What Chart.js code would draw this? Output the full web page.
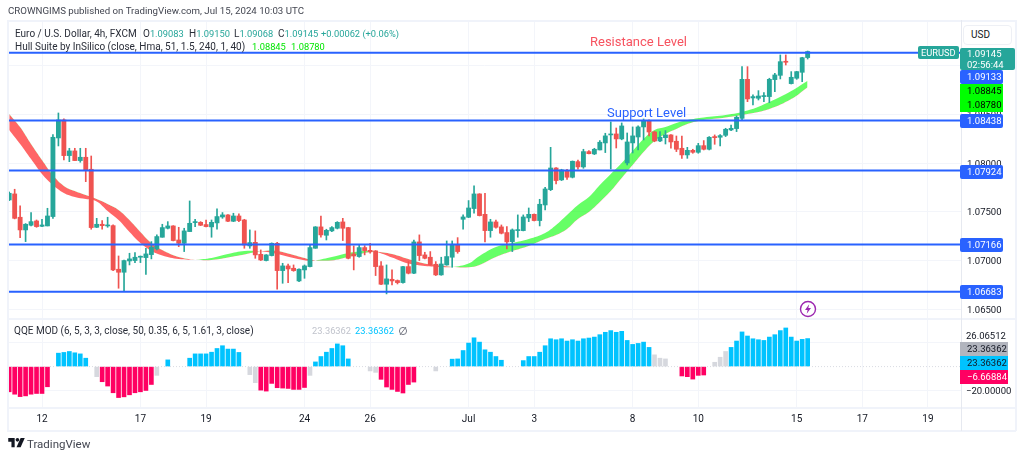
<!DOCTYPE html>
<html><head><meta charset="utf-8">
<script src="https://cdn.jsdelivr.net/npm/chart.js@4"></script>
<style>
html,body{margin:0;padding:0;background:#fff;width:1024px;height:458px;overflow:hidden;font-family:Roboto,sans-serif}
canvas{position:absolute;left:0}
.t{position:absolute;white-space:nowrap;font-size:10px;line-height:12px;color:#2a2e39}
.n{font-size:9.3px}
.b{position:absolute;left:960px;width:43px;box-sizing:border-box;padding-left:7px;font-size:9.5px;line-height:14px;height:14px;color:#fff;border-radius:2px;white-space:nowrap}
.r{position:absolute;background:#f0f3fa}
svg{position:absolute}
</style></head><body>
<canvas id="price" width="1024" height="318" style="top:0"></canvas>
<canvas id="qqe" width="1024" height="140" style="top:318px"></canvas>

<div class="r" style="left:7px;top:20px;width:1009px;height:1.5px"></div>
<div class="r" style="left:7px;top:20px;width:1.5px;height:411px"></div>
<div class="r" style="left:1015px;top:20px;width:1.5px;height:411px"></div>
<div class="r" style="left:7px;top:430px;width:1009px;height:1.5px"></div>
<div class="r" style="left:7px;top:318px;width:1009px;height:1.5px"></div>
<div class="r" style="left:7px;top:407px;width:1009px;height:1.5px"></div>
<div class="r" style="left:960.5px;top:20px;width:1px;height:411px;background:#e6e9f0"></div>

<div class="t" style="left:8px;top:5px;font-size:9.7px;color:#434651" id="head">CROWNGIMS published on TradingView.com, Jul 15, 2024 10:03 UTC</div>
<div class="t" style="left:15px;top:28px">Euro / U.S. Dollar, 4h, FXCM</div>
<div class="t" style="left:143px;top:28px">O<span class="n" style="color:#26a69a">1.09083</span></div>
<div class="t" style="left:189px;top:28px">H<span class="n" style="color:#26a69a">1.09150</span></div>
<div class="t" style="left:234px;top:28px">L<span class="n" style="color:#26a69a">1.09068</span></div>
<div class="t" style="left:278px;top:28px">C<span class="n" style="color:#26a69a">1.09145</span></div>
<div class="t n" style="left:321px;top:28px;color:#26a69a">+0.00062 (+0.06%)</div>
<div class="t" style="left:15px;top:41px">Hull Suite by InSilico (close, Hma, 51, 1.5, 240, 1, 40)</div>
<div class="t n" style="left:252px;top:41px;color:#00e600">1.08845</div>
<div class="t n" style="left:291px;top:41px;color:#00e600">1.08780</div>
<div class="t" style="left:14px;top:325px">QQE MOD (6, 5, 3, 3, close, 50, 0.35, 6, 5, 1.61, 3, close)</div>
<div class="t n" style="left:312px;top:325px;color:#c0c3cc">23.36362</div>
<div class="t n" style="left:355px;top:325px;color:#00c3ff">23.36362</div>
<svg style="left:398px;top:326px" width="10" height="10" viewBox="0 0 10 10"><circle cx="5" cy="5" r="3.6" fill="none" stroke="#787b86" stroke-width="1"/><line x1="2" y1="9" x2="8" y2="1" stroke="#787b86" stroke-width="1"/></svg>

<div class="t" style="left:590px;top:34px;font-size:13px;line-height:15px;color:#f7525f">Resistance Level</div>
<div class="t" style="left:607px;top:105px;font-size:13px;line-height:15px;color:#2962ff">Support Level</div>

<div class="t" style="left:963px;top:25px;width:49px;height:20px;box-sizing:border-box;border:1px solid #eef0f5;border-radius:4px;background:#fff;line-height:18px;padding-left:7px;color:#131722">USD</div>
<div class="t" style="left:918px;top:46px;width:41px;height:13px;background:#26a69a;color:#fff;border-radius:2px;line-height:13px;padding-left:3px;box-sizing:border-box;font-size:9.3px">EURUSD</div>
<div class="b" style="top:48px;width:55px;height:22px;background:#26a69a;line-height:11px;padding-top:0">1.09145<br>02:56:44</div>
<div class="b" style="top:70px;background:#2962ff">1.09133</div>
<div class="b" style="top:84px;background:#00ff00;color:#000;border-radius:0">1.08845</div>
<div class="b" style="top:97.5px;background:#00ff00;color:#000;border-radius:0">1.08780</div>
<div class="b" style="top:114px;background:#2962ff">1.08438</div>
<div class="b" style="top:165px;background:#2962ff">1.07924</div>
<div class="b" style="top:238px;background:#2962ff">1.07166</div>
<div class="b" style="top:285px;background:#2962ff">1.06683</div>
<div class="b" style="top:342px;width:48px;background:#b2b5be;color:#131722;border-radius:0">23.36362</div>
<div class="b" style="top:356px;width:48px;background:#00c3ff;color:#131722;border-radius:0">23.36362</div>
<div class="b" style="top:369.5px;width:48px;background:#ff0062;border-radius:0">−6.66884</div>

<svg style="left:799px;top:300px" width="18" height="18" viewBox="0 0 18 18"><circle cx="9" cy="9" r="7.5" fill="#fff" stroke="#9c27b0" stroke-width="1.4"/><path d="M10.2 4.2 6 10h2.6l-.9 3.8L12 8H9.3z" fill="#9c27b0"/></svg>

<svg style="left:8px;top:438px" width="17" height="11" viewBox="0 0 36 24"><path d="M0 0h14v20H7V8H0z" fill="#131722"/><circle cx="20" cy="4" r="4" fill="#131722"/><path d="M27 0h9l-9 20h-9z" fill="#131722"/></svg>
<div class="t" style="left:27px;top:437px;font-size:11.5px;line-height:14px;color:#434651">TradingView</div>

<script>
const firstBar = -6;
const opens = [1.07623,1.07685,1.07446,1.07316,1.07364,1.07408,1.07353,1.07357,1.07453,1.08259,1.08444,1.08078,1.08126,1.08027,1.08061,1.07938,1.07343,1.07374,1.07357,1.0736,1.06913,1.06882,1.06998,1.07002,1.07036,1.07032,1.07063,1.07121,1.07241,1.07333,1.07357,1.07213,1.07179,1.07299,1.07391,1.07394,1.07371,1.07347,1.07388,1.07449,1.0747,1.07405,1.07459,1.07418,1.07152,1.07189,1.07066,1.07002,1.07053,1.07179,1.06899,1.06947,1.06923,1.06793,1.06906,1.0694,1.07128,1.07347,1.07261,1.07306,1.07333,1.07398,1.0734,1.0707,1.07043,1.07135,1.07107,1.07101,1.06947,1.06759,1.0681,1.06797,1.06776,1.0694,1.06872,1.07193,1.0706,1.07036,1.06964,1.06855,1.06957,1.07036,1.07162,1.07425,1.07446,1.07535,1.07685,1.07476,1.07309,1.07398,1.07347,1.07289,1.07196,1.07309,1.07309,1.07439,1.07476,1.07412,1.07572,1.07729,1.07951,1.07829,1.07924,1.07856,1.08016,1.07962,1.08119,1.08095,1.08136,1.08208,1.0829,1.083,1.08249,1.08003,1.08208,1.08269,1.08372,1.08433,1.0832,1.08228,1.08262,1.0829,1.08225,1.08153,1.08085,1.08132,1.08112,1.0818,1.08143,1.08273,1.08266,1.08286,1.08341,1.08355,1.0846,1.0886,1.08669,1.08666,1.08683,1.08683,1.08857,1.08901,1.09045,1.08816,1.08871,1.08932,1.09083];
const closes = [1.07692,1.07435,1.07316,1.07374,1.07401,1.0735,1.07367,1.07459,1.08266,1.08444,1.08078,1.08126,1.08027,1.08061,1.07924,1.0734,1.07374,1.0736,1.07367,1.06906,1.06882,1.07002,1.07019,1.07036,1.07043,1.0707,1.07138,1.07248,1.0734,1.07357,1.07207,1.07179,1.07306,1.07384,1.07394,1.07364,1.0735,1.07394,1.07453,1.0747,1.07405,1.07459,1.07412,1.07162,1.07186,1.0706,1.07008,1.0706,1.07179,1.06899,1.06947,1.06916,1.06899,1.06913,1.06947,1.07135,1.07347,1.07265,1.07312,1.0734,1.07394,1.07333,1.07025,1.07049,1.07135,1.07104,1.07091,1.0694,1.06759,1.06814,1.06793,1.06776,1.0694,1.06872,1.07193,1.07053,1.07025,1.06957,1.06855,1.06967,1.07043,1.07169,1.07094,1.07449,1.07541,1.07685,1.07463,1.07309,1.07398,1.07343,1.07282,1.07193,1.07316,1.07316,1.07449,1.07476,1.07412,1.07579,1.07736,1.07951,1.07822,1.07931,1.07856,1.0802,1.07962,1.08119,1.08098,1.08143,1.08215,1.0828,1.083,1.08249,1.08382,1.08218,1.0828,1.08372,1.08433,1.0832,1.08228,1.08266,1.0829,1.08218,1.08143,1.08085,1.08132,1.08112,1.0818,1.08143,1.08266,1.08262,1.08283,1.08348,1.08358,1.08471,1.0886,1.08659,1.08683,1.08689,1.08693,1.0886,1.08905,1.09041,1.09035,1.08881,1.08939,1.09082,1.09145];
const highs = [1.07705,1.07733,1.07562,1.07381,1.07494,1.07418,1.07425,1.07538,1.08293,1.08515,1.08454,1.08153,1.08153,1.08153,1.08153,1.08074,1.07435,1.07412,1.07446,1.07367,1.07049,1.07008,1.07077,1.07084,1.07049,1.07128,1.07196,1.07265,1.07374,1.07401,1.0736,1.07343,1.07333,1.07613,1.07425,1.07401,1.07418,1.07418,1.07531,1.07494,1.07473,1.07487,1.0748,1.07425,1.07316,1.07306,1.07111,1.07063,1.07183,1.07189,1.06974,1.06967,1.06957,1.06916,1.06957,1.07162,1.0735,1.07459,1.07323,1.0735,1.07401,1.07435,1.07343,1.07152,1.07162,1.07155,1.07179,1.07104,1.06991,1.06957,1.06906,1.06803,1.06943,1.06991,1.07213,1.07265,1.07087,1.07094,1.06991,1.07036,1.07203,1.07203,1.07237,1.0747,1.07617,1.07767,1.07688,1.07692,1.07425,1.07418,1.07367,1.0735,1.07326,1.0747,1.0747,1.07541,1.0748,1.0763,1.07753,1.08163,1.07955,1.07938,1.07938,1.08023,1.08033,1.08143,1.08129,1.08153,1.08232,1.08307,1.08423,1.08361,1.08413,1.0831,1.08372,1.08382,1.08454,1.08444,1.08326,1.08324,1.08334,1.08293,1.08279,1.08279,1.08163,1.08143,1.08204,1.08232,1.08273,1.0829,1.08293,1.08358,1.08392,1.08484,1.0899,1.0899,1.087,1.08744,1.08724,1.08871,1.08922,1.0911,1.0911,1.08939,1.08942,1.09086,1.0915];
const lows = [1.07617,1.07429,1.07237,1.07196,1.07357,1.07343,1.0735,1.07357,1.07435,1.08177,1.08033,1.08016,1.08027,1.0801,1.07811,1.07323,1.0734,1.07323,1.07343,1.06899,1.06718,1.06694,1.06957,1.06981,1.06981,1.06861,1.07019,1.07111,1.07241,1.07326,1.07203,1.07145,1.07094,1.07299,1.0735,1.0736,1.07347,1.07241,1.07323,1.07435,1.07401,1.07401,1.07401,1.07128,1.07128,1.07025,1.07002,1.06998,1.07049,1.06708,1.06769,1.06776,1.06892,1.06786,1.0682,1.06937,1.07128,1.07241,1.07213,1.07299,1.07326,1.07207,1.07019,1.06906,1.07036,1.0706,1.07077,1.06848,1.06755,1.0666,1.06752,1.06762,1.06769,1.06865,1.06868,1.07002,1.07019,1.06954,1.06848,1.06851,1.06954,1.06933,1.07077,1.07323,1.07442,1.07487,1.07459,1.07193,1.07241,1.07333,1.07275,1.07121,1.07094,1.07241,1.07306,1.07401,1.07408,1.07357,1.07521,1.07719,1.07787,1.07822,1.07835,1.07849,1.07938,1.07948,1.08095,1.08088,1.08136,1.08109,1.07941,1.08156,1.0824,1.07982,1.08105,1.08136,1.08238,1.0828,1.0822,1.08221,1.08197,1.08153,1.08119,1.0805,1.0805,1.08102,1.08102,1.08136,1.08136,1.08194,1.08177,1.08273,1.08334,1.08324,1.08443,1.08631,1.08597,1.08648,1.08631,1.08621,1.08734,1.08864,1.09007,1.08812,1.0886,1.08836,1.09068];

const hullBars = [-6,-4,-2,0,2,4,6,8,10,12,14,16,18,20,22,25,28,31,34,37,40,43,46,49,50,53,56,59,61,64,67,70,73,75,78,80,83,86,89,92,94,96,98,100,102,104,106,108,110,112,114,116,118,121,125,129,133,137,140];
const hullA = [1.08341,1.08197,1.08043,1.0789,1.07777,1.07695,1.07654,1.07633,1.07608,1.0751,1.07418,1.07295,1.07182,1.071,1.07054,1.07018,1.07013,1.07029,1.0707,1.071,1.07097,1.0707,1.07029,1.06998,1.07003,1.07039,1.0708,1.071,1.07093,1.07034,1.06972,1.06946,1.06936,1.06936,1.06972,1.07049,1.07141,1.07182,1.07223,1.07285,1.07367,1.07469,1.07572,1.07654,1.07777,1.0789,1.08002,1.08125,1.08248,1.0834,1.08371,1.08412,1.08443,1.08469,1.08494,1.0854,1.08628,1.0874,1.08845];
const hullB = [1.08505,1.08371,1.08197,1.08033,1.07879,1.07767,1.07715,1.07674,1.07633,1.07582,1.07521,1.07418,1.07295,1.07182,1.0711,1.07039,1.07013,1.07008,1.07034,1.07064,1.07097,1.071,1.07059,1.07013,1.07003,1.07003,1.07039,1.0708,1.07093,1.0707,1.07018,1.06972,1.0695,1.06936,1.06933,1.06957,1.07039,1.071,1.07152,1.07223,1.07264,1.07326,1.07428,1.075,1.07603,1.07715,1.07849,1.07982,1.08115,1.08228,1.083,1.08351,1.08402,1.08443,1.08469,1.08505,1.08556,1.08658,1.0878];

const levels = [1.09133,1.08438,1.07924,1.07166,1.06683];
const priceTicks = [1.065,1.07,1.075,1.08,1.085,1.09];
const dayBars = [0,18,30,48,60,78,90,108,120,138,150,162];
const dayLabels = ["12","17","19","24","26","Jul","3","8","10","15","17","19"];

const qqeValues = [-21,-23,-25,-24.4,-23,-22.4,-22.4,-16.8,null,11.2,11.8,12.6,11.5,10.6,7,null,-8.4,-12.6,-16.2,-21.8,-25.8,-25.2,-23.5,-21.8,-21,-19.9,-14.9,-7.3,null,5.6,null,null,null,7,10.6,10.6,10.6,12,15.1,17.4,14.6,14.6,11.8,null,-6.7,-13.4,-19.6,-20.4,-14,-17.6,-17.9,-18.2,-19,-19,-17.4,-7.3,3.9,8.4,12,15.1,18.9,17.4,6.4,null,null,null,-3.6,-4.8,-10.6,-17,-19,-20.7,-22,-14.9,-12.9,null,null,null,-3.6,null,null,6.2,6.4,13.4,19.6,24,20.4,14,12,8.4,5.3,null,null,null,5,8.4,8.4,12,17.4,23.2,22.4,23.2,21.3,22.4,21.3,23.2,23.8,24.6,26.6,28.6,30,28.6,29.4,21.8,18.5,19.3,20.4,16,9.8,7,6.4,null,null,-7.8,-8.4,-10.4,-7.3,-7,null,3.6,7.8,12.6,16,21.3,28.9,25.5,23.2,22.4,21.8,24.6,26.6,30,32.2,24.6,21.3,22.7,23.36];
const qqeNeutralBars = [10,21,38,39,49,60,61,72,112,113,114,123,124,125];
const qqeTicks = [-20,0,20,26.06512];

const GREEN='#26a69a', RED='#ef5350';
const xMin=-6.217, xMax=168.04;
const barOf = k => firstBar + k;
const candleColor = opens.map((o,k)=> closes[k]>=o ? GREEN : RED);
const xFit = h => s => {s.height=h;s.paddingLeft=0;s.paddingRight=0;};
const yFit = s => {s.width=55;s.paddingTop=0;s.paddingBottom=0;};
const xScale = extra => Object.assign({
  type:'linear', min:xMin, max:xMax, offset:false,
  afterBuildTicks:s=>{s.ticks=dayBars.map(v=>({value:v}));},
  grid:{color:'#f3f5fa',lineWidth:1,drawTicks:false,offset:false},
  border:{display:false}
},extra);
const noUi={legend:{display:false},tooltip:{enabled:false}};

new Chart(document.getElementById('price'),{
  type:'bar',
  data:{datasets:[
    ...levels.map(v=>({type:'line',order:0,data:[{x:xMin,y:v},{x:xMax,y:v}],borderColor:'#2962ff',borderWidth:2,pointRadius:0})),
    {order:1,data:opens.map((o,k)=>({x:barOf(k),y:[o,closes[k]]})),backgroundColor:candleColor,barThickness:4.2,minBarLength:1,grouped:false},
    {order:2,data:lows.map((l,k)=>({x:barOf(k),y:[l,highs[k]]})),backgroundColor:candleColor,barThickness:1,grouped:false},
    {type:'line',order:5,data:hullBars.map((b,k)=>({x:b,y:hullA[k]})),borderWidth:0,borderColor:'transparent',pointRadius:0,tension:0.4,
     fill:{target:'+1',above:'rgba(0,255,0,0.6)',below:'rgba(255,0,0,0.6)'}},
    {type:'line',order:5,data:hullBars.map((b,k)=>({x:b,y:hullB[k]})),borderWidth:0,borderColor:'transparent',pointRadius:0,tension:0.4,fill:false}
  ]},
  options:{
    responsive:false,animation:false,devicePixelRatio:1,
    layout:{padding:{left:8,top:21,right:8,bottom:0}},
    plugins:noUi,
    scales:{
      x:xScale({ticks:{display:false},afterFit:xFit(0)}),
      y:{position:'right',min:1.06413,max:1.09458,
        afterBuildTicks:s=>{s.ticks=priceTicks.map(v=>({value:v}));},
        afterFit:yFit,
        grid:{color:'#f3f5fa',drawTicks:false},border:{display:false},
        ticks:{padding:6,labelOffset:1,color:'#131722',font:{family:'Roboto',size:9.5},callback:v=>v.toFixed(5)}}
    }
  }
});

new Chart(document.getElementById('qqe'),{
  type:'bar',
  data:{datasets:[
    {type:'line',order:0,data:[{x:xMin,y:0},{x:xMax,y:0}],borderColor:'#d9dbe2',borderWidth:1,borderDash:[1,2],pointRadius:0},
    {order:1,data:qqeValues.map((v,k)=>({x:barOf(k),y:v})),barThickness:4,
     backgroundColor:qqeValues.map((v,k)=> qqeNeutralBars.includes(barOf(k)) ? '#d6d8de' : (v>=0 ? '#00c3ff' : '#ff0062'))}
  ]},
  options:{
    responsive:false,animation:false,devicePixelRatio:1,
    layout:{padding:{left:8,top:1,right:8,bottom:28}},
    plugins:noUi,
    scales:{
      x:xScale({afterFit:xFit(22),
        ticks:{autoSkip:false,maxRotation:0,padding:5,color:'#131722',font:{family:'Roboto',size:10},
          callback:v=>dayLabels[dayBars.indexOf(v)]}}),
      y:{position:'right',min:-34.5,max:39.67,
        afterBuildTicks:s=>{s.ticks=qqeTicks.map(v=>({value:v}));},
        afterFit:yFit,
        grid:{color:c=>Math.abs(c.tick.value)===20?'#f3f5fa':'transparent',drawTicks:false},border:{display:false},
        ticks:{padding:5,labelOffset:1,color:'#131722',font:{family:'Roboto',size:9.5},
          callback:v=>v===0||v===20?'':v.toFixed(5).replace('-','\u2212')}}
    }
  }
});
</script>
</body></html>
